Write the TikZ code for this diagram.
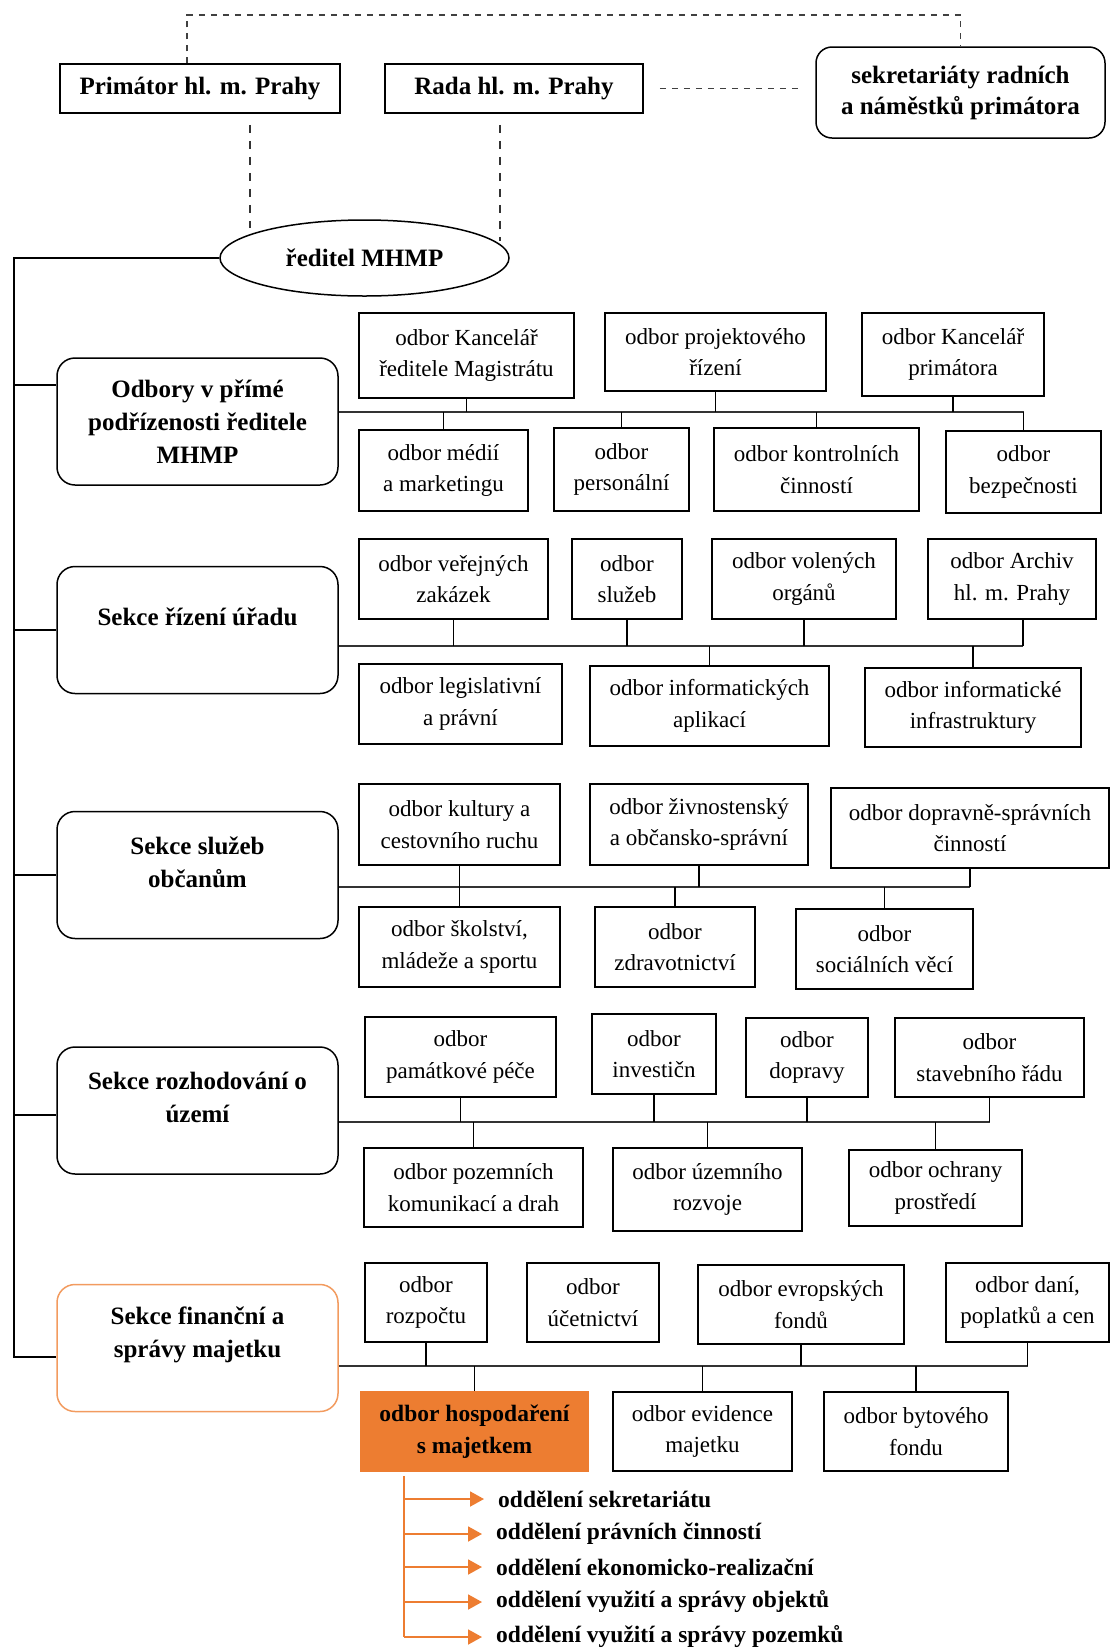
\documentclass[tikz,border=0pt]{standalone}
\usepackage{fontspec}
\setmainfont{Liberation Serif}
\usepackage{xcolor}
\usepackage{tikz}
\usetikzlibrary{arrows.meta, positioning, shapes.geometric}
\definecolor{orgfill}{HTML}{ED7D31}
\definecolor{orgline}{HTML}{F29B5F}

\begin{document}
\begin{tikzpicture}[x=1pt, y=-1pt,
	topbox/.style={shape=rectangle, draw, line width=1.5pt, minimum height=49pt, align=center, inner sep=0pt, font=\bfseries\fontsize{25}{31}\selectfont},
	headbox/.style={shape=rectangle, draw, line width=1.5pt, rounded corners=18pt, minimum width=281pt, minimum height=127pt},
	headtext/.style={align=center, inner sep=0pt, font=\bfseries\fontsize{25}{33}\selectfont},
	dept/.style={shape=rectangle, draw, line width=1.5pt, align=center, inner sep=0pt, font=\fontsize{23}{31.5}\selectfont},
	item/.style={anchor=west, inner sep=0pt, font=\bfseries\fontsize{23.5}{28}\selectfont},
	link/.style={line width=1.3pt},
	bus/.style={line width=2.5pt, black!80},
	dotline/.style={line width=1.6pt, black!75, dash pattern=on 6pt off 6pt},
	dashline/.style={line width=1.4pt, black!80, dash pattern=on 8pt off 8pt},
	olink/.style={line width=1.8pt, orgfill},
	oarrow/.style={line width=1.8pt, orgfill, -{Triangle[length=14pt, width=15pt]}}]
	\useasboundingbox (0,0) rectangle (1111,1650);
	% Leadership:
	\node[topbox, minimum width=280pt](prim) at (200,88.5){Primátor hl. m. Prahy};
	\node[topbox, minimum width=258pt](rada) at (514,88.5){Rada hl. m. Prahy};
	\node[topbox, rounded corners=16pt, minimum width=289pt, minimum height=91pt](sekr) at (960.5,92.5){sekretariáty radních\\a náměstků primátora};
	\node[shape=ellipse, draw, line width=1.5pt, minimum width=289pt, minimum height=76pt, inner sep=0pt, font=\bfseries\fontsize{25}{31}\selectfont](ell) at (364.5,258){ředitel MHMP};
	\coordinate (topc) at (187,15);
	\draw[dotline] (prim.north -| topc) -- (topc) -| (sekr.north);
	\draw[dotline] ([xshift=16pt]rada.east) -- ([xshift=-12pt]sekr.west |- rada.east);
	\draw[dashline] ([xshift=50pt, yshift=-11pt]prim.south) -- ++(0,103);
	\draw[dashline] ([xshift=-14pt, yshift=-11pt]rada.south) -- ++(0,116);
	% Sections:
	\node[headbox](odb) at (197.5,421.5){} node[headtext] at (odb.center){Odbory v přímé\\podřízenosti ředitele\\MHMP};
	\node[headbox](riz) at (197.5,630){} node[headtext] at ([yshift=13pt]riz.center){Sekce řízení úřadu};
	\node[headbox](slu) at (197.5,875){} node[headtext] at ([yshift=13pt]slu.center){Sekce služeb\\občanům};
	\node[headbox](roz) at (197.5,1110.5){} node[headtext] at ([yshift=13pt]roz.center){Sekce rozhodování o\\území};
	\node[headbox, draw=orgline](fin) at (197.5,1348){} node[headtext] at ([yshift=13pt]fin.center){Sekce finanční a\\správy majetku};
	\coordinate (spine) at (14,258);
	\draw[link] (ell.west) -- (spine) |- ([yshift=-9pt]fin.west);
	\draw[link] (spine |- odb.west) ++(0,-36.5) -- ([yshift=36.5pt]odb.west);
	\draw[link] (spine |- riz.west) -- (riz.west);
	\draw[link] (spine |- slu.west) -- (slu.west);
	\draw[link] ([yshift=-4.5pt]spine |- roz.west) -- ([yshift=-4.5pt]roz.west);
	% Odbory v prime podrizenosti:
	\node[dept, minimum width=215pt, minimum height=85pt](k1) at (466.5,355.5){odbor Kancelář\\ředitele Magistrátu};
	\node[dept, minimum width=221pt, minimum height=78pt](pr) at (715.5,352){odbor projektového\\řízení};
	\node[dept, minimum width=182pt, minimum height=83pt](kp) at (953,354.5){odbor Kancelář\\primátora};
	\node[dept, minimum width=169pt, minimum height=81pt](me) at (443.5,470.5){odbor médií\\a marketingu};
	\node[dept, minimum width=135pt, minimum height=83pt](pe) at (621.5,469.5){odbor\\personální};
	\node[dept, minimum width=205pt, minimum height=83pt](ko) at (816.5,469.5){odbor kontrolních\\činností};
	\node[dept, minimum width=155pt, minimum height=82pt](bz) at (1023.5,472){odbor\\bezpečnosti};
	\coordinate (b1) at ([yshift=9.5pt]odb.east);
	\draw[bus] (b1) -- (b1 -| bz.north);
	\draw[link] (k1.south) -- (k1.south |- b1);
	\draw[link] (pr.south) -- (pr.south |- b1);
	\draw[link] (kp.south) -- (kp.south |- b1);
	\draw[link] (b1 -| me.north) -- (me.north);
	\draw[link] (b1 -| pe.north) -- (pe.north);
	\draw[link] (b1 -| ko.north) -- (ko.north);
	\draw[link] (b1 -| bz.north) -- (bz.north);
	% Sekce rizeni uradu:
	\node[dept, minimum width=189pt, minimum height=80pt](vz) at (453.5,579){odbor veřejných\\zakázek};
	\node[dept, minimum width=110pt, minimum height=80pt](sl) at (627,579){odbor\\služeb};
	\node[dept, minimum width=184pt, minimum height=80pt](vo) at (804,579){odbor volených\\orgánů};
	\node[dept, minimum width=168pt, minimum height=80pt](ar) at (1012,579){odbor Archiv\\hl. m. Prahy};
	\node[dept, minimum width=203pt, minimum height=80pt](le) at (460.5,704){odbor legislativní\\a právní};
	\node[dept, minimum width=239pt, minimum height=80pt](ia) at (709.5,706){odbor informatických\\aplikací};
	\node[dept, minimum width=216pt, minimum height=79pt](ii) at (973,707.5){odbor informatické\\infrastruktury};
	\coordinate (b2) at ([yshift=-16pt]riz.east);
	\coordinate (arc) at ([xshift=11pt]ar.south);
	\draw[bus] (b2) -- (b2 -| arc);
	\draw[link] (vz.south) -- (vz.south |- b2);
	\draw[link] (sl.south) -- (sl.south |- b2);
	\draw[link] (vo.south) -- (vo.south |- b2);
	\draw[link] (arc) -- (arc |- b2);
	\draw[link] (b2 -| ia.north) -- (ia.north);
	\draw[link] (b2 -| ii.north) -- (ii.north);
	% Sekce sluzeb obcanum:
	\node[dept, minimum width=201pt, minimum height=81pt](ku) at (459.5,824.5){odbor kultury a\\cestovního ruchu};
	\node[dept, minimum width=218pt, minimum height=81pt](zi) at (699,824.5){odbor živnostenský\\a občansko-správní};
	\node[dept, minimum width=278pt, minimum height=80pt](dp) at (970,828){odbor dopravně-správních\\činností};
	\node[dept, minimum width=201pt, minimum height=80pt](sk) at (459.5,947){odbor školství,\\mládeže a sportu};
	\node[dept, minimum width=160pt, minimum height=80pt](zd) at (675,947){odbor\\zdravotnictví};
	\node[dept, minimum width=177pt, minimum height=80pt](so) at (884.5,949){odbor\\sociálních věcí};
	\coordinate (b3) at ([yshift=-12pt]slu.east);
	\draw[bus] (b3) -- (b3 -| dp.south);
	\draw[link] (ku.south) -- (ku.south |- b3);
	\draw[link] (zi.south) -- (zi.south |- b3);
	\draw[link] (dp.south) -- (dp.south |- b3);
	\draw[link] (b3 -| sk.north) -- (sk.north);
	\draw[link] (b3 -| zd.north) -- (zd.north);
	\draw[link] (b3 -| so.north) -- (so.north);
	% Sekce rozhodovani o uzemi:
	\node[dept, minimum width=191pt, minimum height=80pt](pa) at (460.5,1057){odbor\\památkové péče};
	\node[dept, minimum width=124pt, minimum height=80pt](inv) at (654,1054){odbor\\investičn};
	\node[dept, minimum width=122pt, minimum height=79pt](dv) at (807,1057.5){odbor\\dopravy};
	\node[dept, minimum width=189pt, minimum height=79pt](st) at (989.5,1057.5){odbor\\stavebního řádu};
	\node[dept, minimum width=219pt, minimum height=79pt](po) at (473.5,1187.5){odbor pozemních\\komunikací a drah};
	\node[dept, minimum width=189pt, minimum height=83pt](uz) at (707.5,1189.5){odbor územního\\rozvoje};
	\node[dept, minimum width=173pt, minimum height=76pt](oc) at (935.5,1188){odbor ochrany\\prostředí};
	\coordinate (b4) at ([yshift=-11.5pt]roz.east);
	\draw[bus] (b4) -- (b4 -| st.south);
	\draw[link] (pa.south) -- (pa.south |- b4);
	\draw[link] (inv.south) -- (inv.south |- b4);
	\draw[link] (dv.south) -- (dv.south |- b4);
	\draw[link] (st.south) -- (st.south |- b4);
	\draw[link] (b4 -| po.north) -- (po.north);
	\draw[link] (b4 -| uz.north) -- (uz.north);
	\draw[link] (b4 -| oc.north) -- (oc.north);
	% Sekce financni a spravy majetku:
	\node[dept, minimum width=122pt, minimum height=79pt](ro) at (426,1302.5){odbor\\rozpočtu};
	\node[dept, minimum width=132pt, minimum height=79pt](uc) at (593,1302.5){odbor\\účetnictví};
	\node[dept, minimum width=206pt, minimum height=79pt](ef) at (801,1304.5){odbor evropských\\fondů};
	\node[dept, minimum width=163pt, minimum height=79pt](da) at (1027.5,1302.5){odbor daní,\\poplatků a cen};
	\node[dept, draw=orgfill, fill=orgfill, minimum width=227pt, minimum height=79pt, font=\bfseries\fontsize{23.5}{31.5}\selectfont](hm) at (474.5,1431.5){odbor hospodaření\\s majetkem};
	\node[dept, minimum width=179pt, minimum height=79pt](em) at (702.5,1431.5){odbor evidence\\majetku};
	\node[dept, minimum width=184pt, minimum height=79pt](bf) at (916,1431.5){odbor bytového\\fondu};
	\coordinate (b5) at ([yshift=-18pt]fin.east);
	\draw[bus] (b5) -- (b5 -| da.south);
	\draw[link] (ro.south) -- (ro.south |- b5);
	\draw[link] (ef.south) -- (ef.south |- b5);
	\draw[link] (da.south) -- (da.south |- b5);
	\draw[link] (b5 -| hm.north) -- (hm.north);
	\draw[link] (b5 -| em.north) -- (em.north);
	\draw[link] (b5 -| bf.north) -- (bf.north);
	% Oddeleni:
	\node[item](o1) at (498,1499){oddělení sekretariátu};
	\node[item](o2) at (496,1534){oddělení právních činností};
	\node[item](o3) at (496,1567){oddělení ekonomicko-realizační};
	\node[item](o4) at (496,1602){oddělení využití a správy objektů};
	\node[item](o5) at (496,1637){oddělení využití a správy pozemků};
	\coordinate (tree) at ([xshift=-70.5pt, yshift=-4pt]hm.south);
	\draw[olink] (tree) -- (tree |- o5.west);
	\draw[oarrow] (tree |- o1.west) -- ([xshift=-14pt]o1.west);
	\draw[oarrow] (tree |- o2.west) -- ([xshift=-14pt]o2.west);
	\draw[oarrow] (tree |- o3.west) -- ([xshift=-14pt]o3.west);
	\draw[oarrow] (tree |- o4.west) -- ([xshift=-14pt]o4.west);
	\draw[oarrow] (tree |- o5.west) -- ([xshift=-14pt]o5.west);
\end{tikzpicture}
\end{document}
